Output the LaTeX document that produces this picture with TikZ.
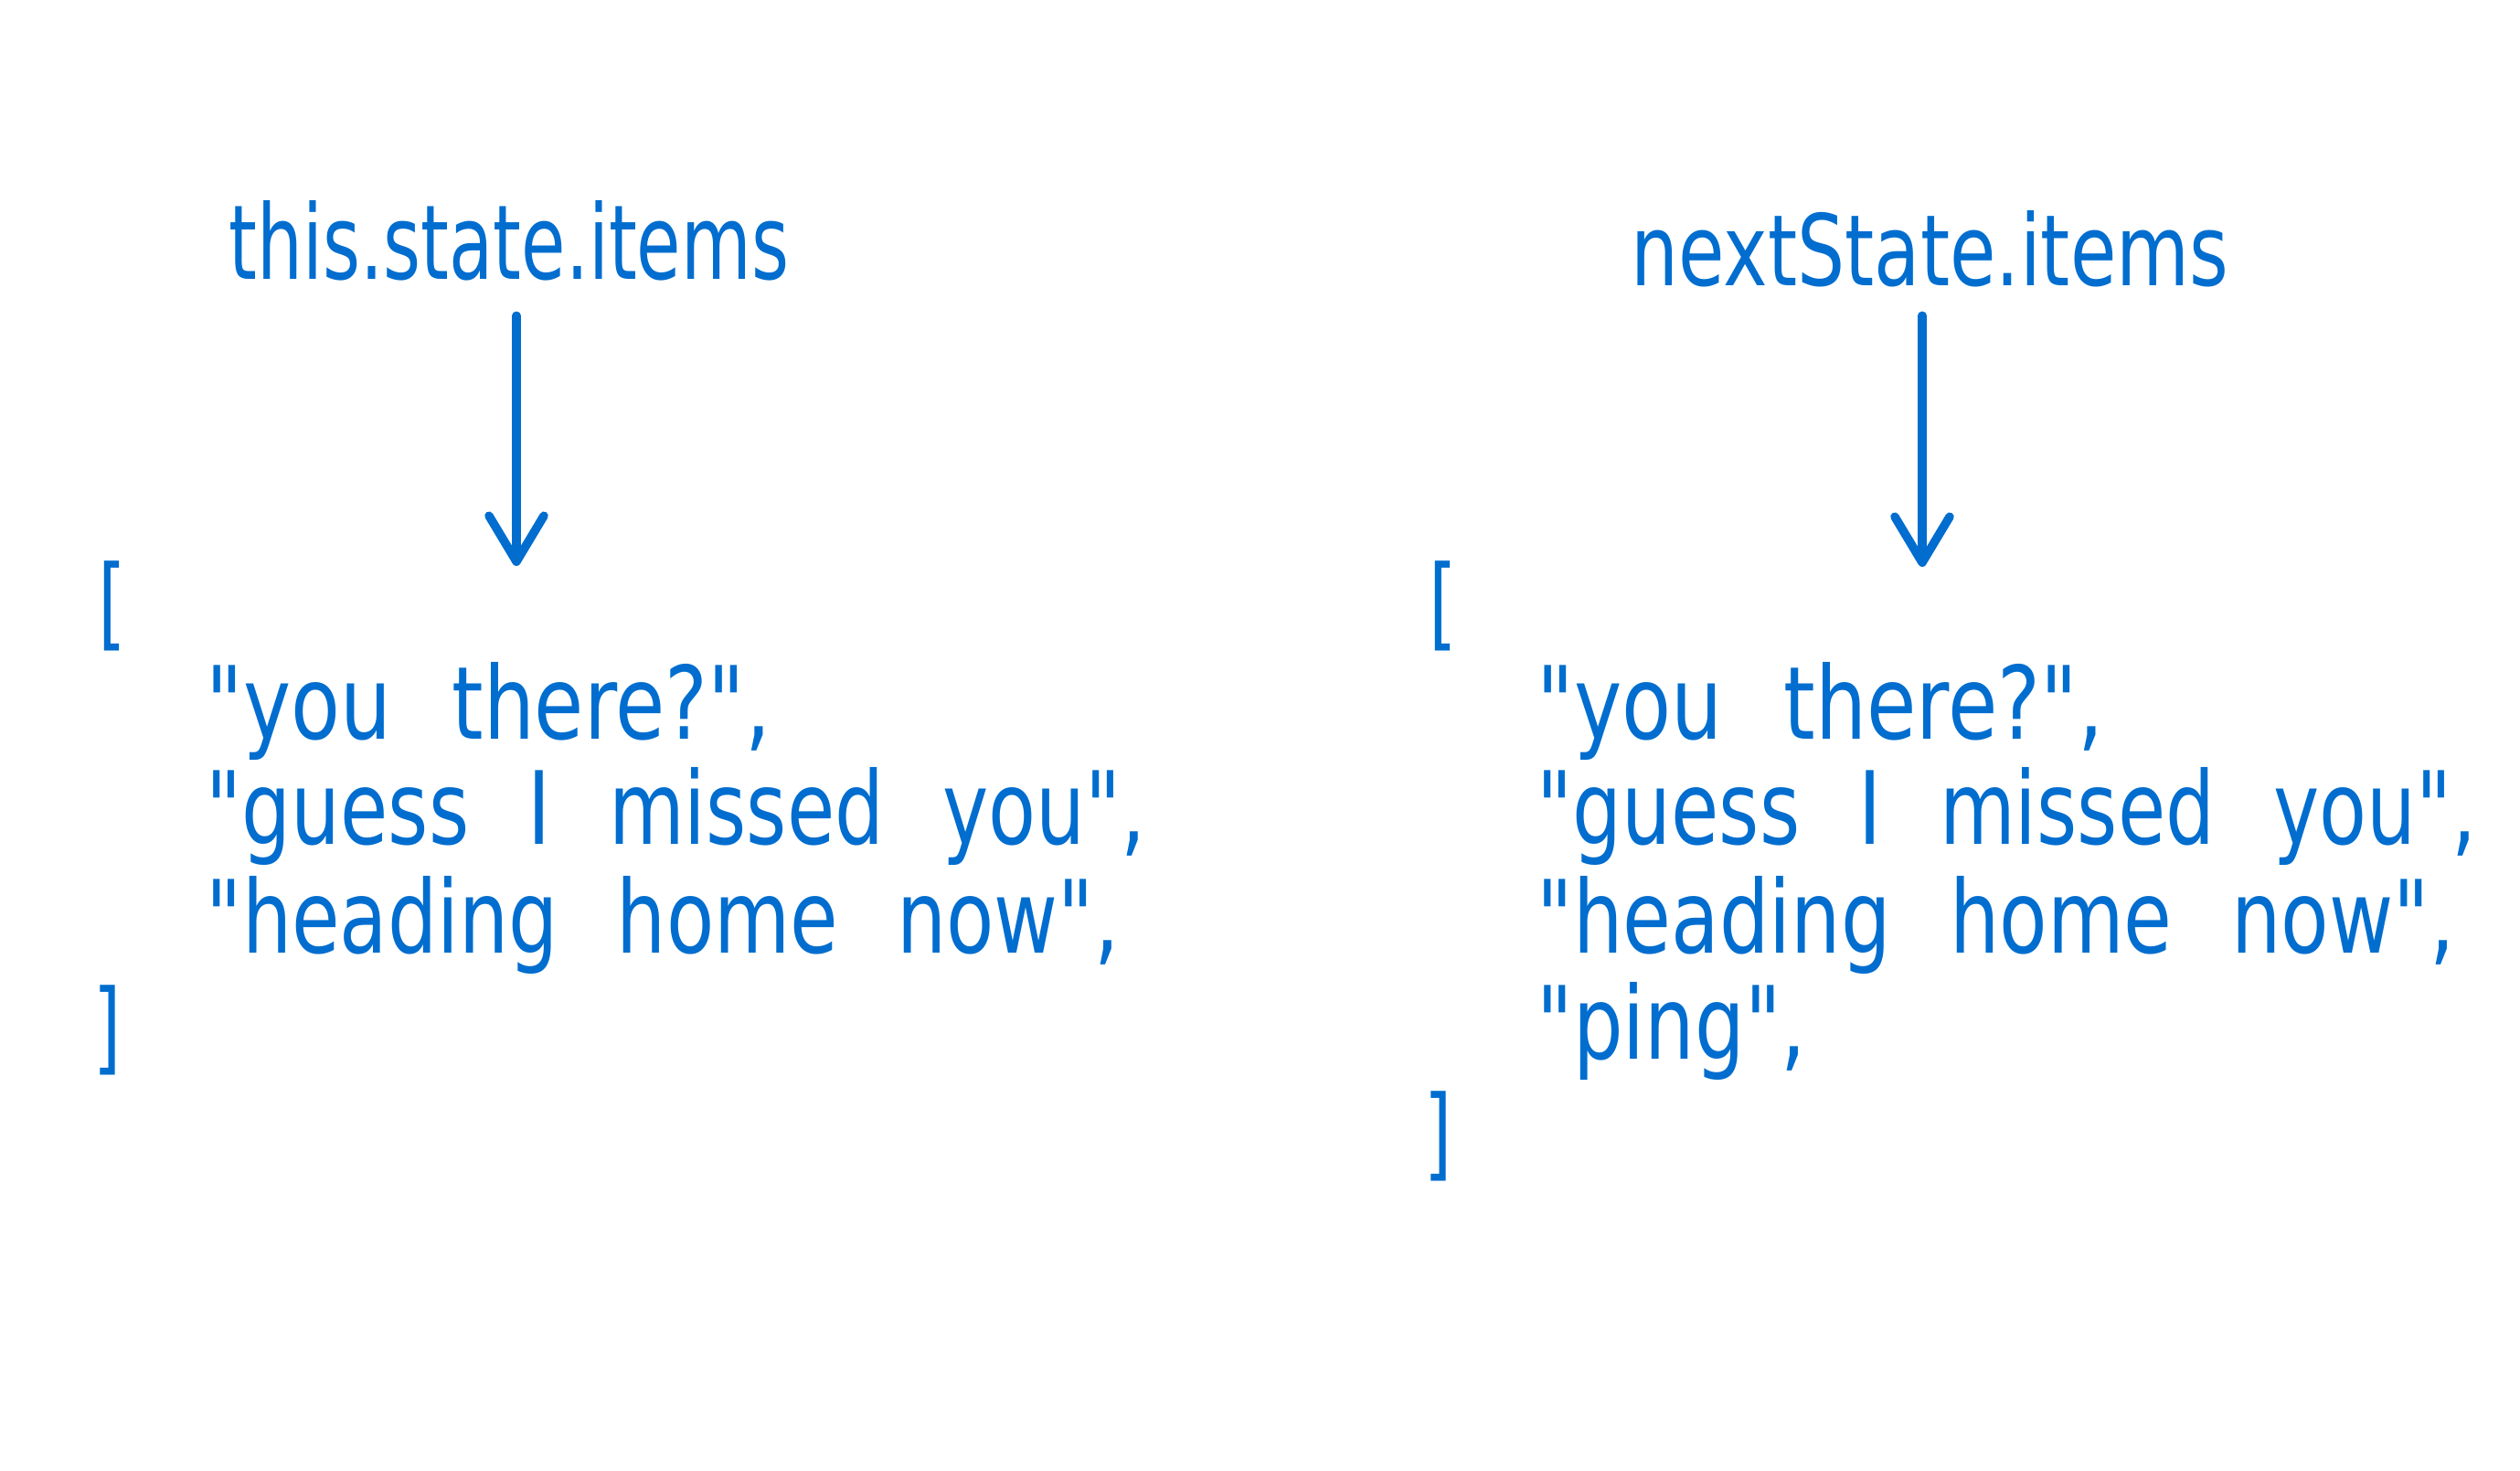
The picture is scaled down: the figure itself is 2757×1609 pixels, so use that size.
\documentclass[tikz,border=0pt]{standalone}
\usepackage{fontspec}
\setmainfont{DejaVu Sans}
\setmonofont{DejaVu Sans Mono}
\newfontfamily\listfont{DejaVu Sans}
\usetikzlibrary{arrows.meta}
\definecolor{ink}{HTML}{006DCF}
\newcommand\monoline[1]{\scalebox{1}[1.4]{\fontsize{22.4pt}{27pt}\ttfamily\selectfont #1}}
\newcommand\listline[2]{\resizebox{#1}{0.84cm}{\fontsize{23.3pt}{28pt}\listfont\selectfont\spaceskip=0.75em\relax #2}}
\tikzset{
  title/.style={inner sep=0pt, anchor=base west, text=ink},
  codeline/.style={inner sep=0pt, anchor=base west, text=ink},
  bracket/.style={inner sep=0pt, anchor=base, text=ink},
  arrowline/.style={draw=ink, line width=0.095cm, line cap=round, line join=round,
    -{Straight Barb[length=0.5cm, width=0.6cm, line cap=round, line join=round]}}
}
\begin{document}
\begin{tikzpicture}[x=0.01cm, y=-0.01cm]
\useasboundingbox (0,0) rectangle (2757,1609);
% titles
\node[title] (t1) at (250,305) {\resizebox{6.12cm}{0.86cm}{this.state.items}};
\node[title] (t2) at (1784,312) {\resizebox{6.53cm}{0.82cm}{nextState.items}};
% arrow ends
\coordinate (e1) at (565,619);
\coordinate (e2) at (2103,620);
\draw[arrowline, shorten <=0.38cm] (t1.south -| e1) -- (e1);
\draw[arrowline, shorten <=0.31cm] (t2.south -| e2) -- (e2);
% left list
\node[bracket] (lb1) at (120,697) {\monoline{[}};
\node[codeline] (l1) at (225,808) {\listline{6.17cm}{"you there?",}};
\node[codeline] (l2) at (225,923) {\listline{10.27cm}{"guess I missed you",}};
\node[codeline] (l3) at (225,1042) {\listline{9.98cm}{"heading home now",}};
\node[bracket] (lb2) at (120,1161) {\monoline{]}};
% right list
\node[bracket] (rb1) at (1576,697) {\monoline{[}};
\node[codeline] (r1) at (1681,808) {\listline{6.19cm}{"you there?",}};
\node[codeline] (r2) at (1681,923) {\listline{10.27cm}{"guess I missed you",}};
\node[codeline] (r3) at (1681,1042) {\listline{10.03cm}{"heading home now",}};
\node[codeline] (r4) at (1681,1158) {\listline{2.94cm}{"ping",}};
\node[bracket] (rb2) at (1576,1277) {\monoline{]}};
\end{tikzpicture}
\end{document}
